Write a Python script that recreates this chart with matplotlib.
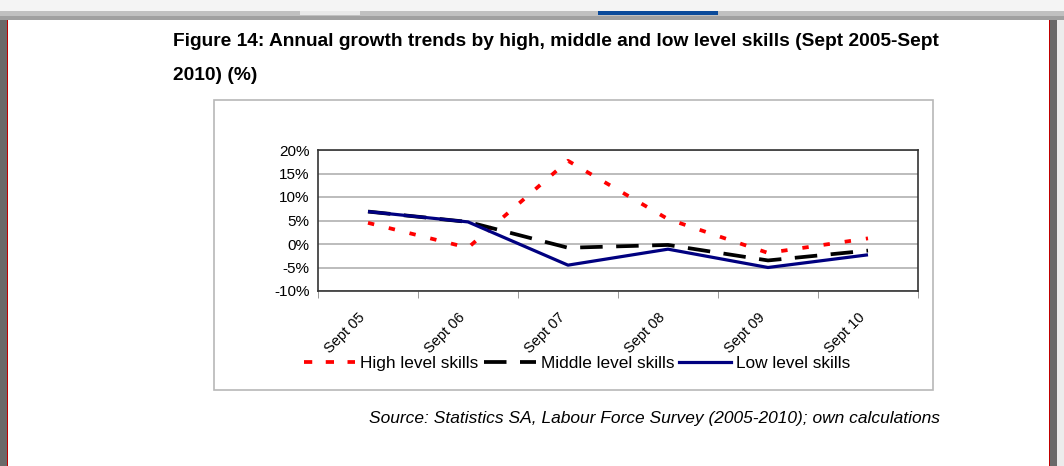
import matplotlib
matplotlib.use("Agg")
import matplotlib.pyplot as plt
from matplotlib.patches import Rectangle
from matplotlib.lines import Line2D
from matplotlib.transforms import ScaledTranslation

categories = ["Sept 05", "Sept 06", "Sept 07", "Sept 08", "Sept 09", "Sept 10"]
high = [4.5, -0.8, 17.7, 5.3, -1.9, 1.2]
middle = [6.9, 4.7, -0.8, -0.2, -3.5, -1.4]
low = [6.9, 4.7, -4.5, -1.1, -5.0, -2.3]
yticks = [-10, -5, 0, 5, 10, 15, 20]

W, H = 1064, 466
plt.rcParams['font.family'] = ['Liberation Sans', 'DejaVu Sans']
fig = plt.figure(figsize=(W / 100, H / 100), dpi=100)
fig.patch.set_facecolor('white')

def px_rect(x0, y0, x1, y1, **kw):
    kw.setdefault('zorder', -5)
    r = Rectangle((x0 / W, 1 - y1 / H), (x1 - x0) / W, (y1 - y0) / H,
                  transform=fig.transFigure, **kw)
    fig.add_artist(r)
    return r

# window chrome
px_rect(0, 0, W, 11, facecolor='#f4f4f4', edgecolor='none')
px_rect(0, 11, W, 16, facecolor='#c0c0c0', edgecolor='none')
px_rect(0, 16, W, 20, facecolor='#a0a0a0', edgecolor='none')
px_rect(300, 11, 360, 15, facecolor='#e8e8e8', edgecolor='none')
px_rect(598, 11, 718, 15, facecolor='#0a4a9a', edgecolor='none')
px_rect(0, 20, 7, H, facecolor='#6a6a6a', edgecolor='none')
px_rect(7, 20, 8, H, facecolor='#c00000', edgecolor='none')
px_rect(1049, 20, 1050, H, facecolor='#c00000', edgecolor='none')
px_rect(1050, 20, 1057, H, facecolor='#6a6a6a', edgecolor='none')
px_rect(1057, 20, W, H, facecolor='#ececec', edgecolor='none')

# chart border box
px_rect(214, 100, 933, 390, facecolor='white', edgecolor='#b8b8b8', linewidth=1.2)

# title
fig.text(173 / W, 1 - 42 / H, "Figure 14: Annual growth trends by high, middle and low level skills (Sept 2005-Sept",
         fontsize=13.8, fontweight='bold', ha='left', va='center')
fig.text(173 / W, 1 - 75 / H, "2010) (%)", fontsize=13.8, fontweight='bold', ha='left', va='center')

# source
fig.text(940 / W, 1 - 419 / H,
         "Source: Statistics SA, Labour Force Survey (2005-2010); own calculations",
         fontsize=12.5, fontstyle='italic', ha='right', va='center')

# axes
x0, x1, y0, y1 = 318, 918, 150, 291
ax = fig.add_axes([x0 / W, 1 - y1 / H, (x1 - x0) / W, (y1 - y0) / H])
ax.set_facecolor('white')
xs = list(range(len(categories)))

red_dash = (1.7, 4.0)
black_dash = (6.0, 3.6)
ax.plot(xs, high, color='#ff0000', lw=2.7, dashes=red_dash, label='High level skills')
ax.plot(xs, middle, color='black', lw=2.7, dashes=black_dash, label='Middle level skills')
ax.plot(xs, low, color='#000080', lw=2.3, solid_capstyle='butt', label='Low level skills')

ax.set_xlim(-0.5, len(categories) - 0.5)
ax.set_ylim(-10, 20)
ax.set_yticks(yticks)
ax.set_yticklabels([f"{v}%" for v in yticks], fontsize=11)
ax.tick_params(axis='y', length=0, pad=6)
ax.yaxis.grid(True, color='#b0b0b0', lw=1.2)
ax.set_axisbelow(True)

ax.set_xticks(xs)
ax.set_xticklabels(categories, fontsize=10.5, rotation=45, ha='right', rotation_mode='anchor')
ax.set_xticks([i - 0.5 for i in range(len(categories) + 1)], minor=True)
ax.tick_params(axis='x', which='major', length=0, pad=12)
ax.tick_params(axis='x', which='minor', length=5, color='#888888', direction='out')
off = ScaledTranslation(-10 / 100, -3 / 100, fig.dpi_scale_trans)
for lbl in ax.get_xticklabels():
    lbl.set_transform(lbl.get_transform() + off)
for s in ax.spines.values():
    s.set_color('#333333')
    s.set_linewidth(1.2)

handles = [
    Line2D([], [], color='#ff0000', lw=2.7, dashes=(2.2, 3.6)),
    Line2D([], [], color='black', lw=2.7, dashes=(6.0, 3.6)),
    Line2D([], [], color='#000080', lw=2.3),
]
fig.legend(handles, ["High level skills", "Middle level skills", "Low level skills"],
           loc='center', bbox_to_anchor=(577 / W, 1 - 363 / H), ncol=3, frameon=False,
           fontsize=12.4, handlelength=3.0, handletextpad=0.3, columnspacing=0.3,
           borderpad=0, borderaxespad=0)

fig.savefig("out.png", dpi=100)
